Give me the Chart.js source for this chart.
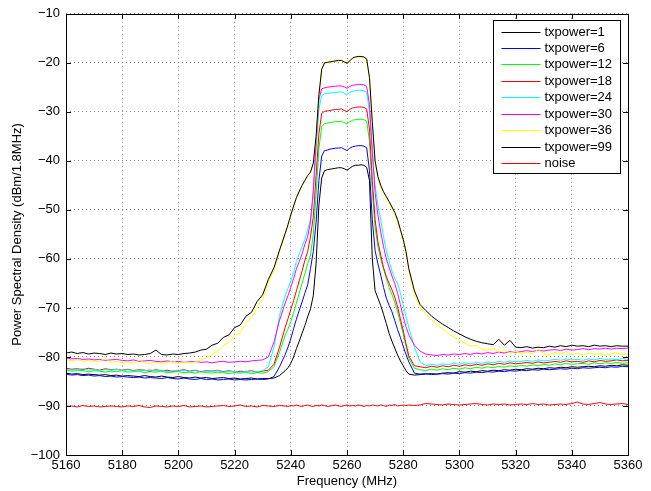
<!DOCTYPE html>
<html>
<head>
<meta charset="utf-8">
<script src="https://cdn.jsdelivr.net/npm/chart.js@4.4.1/dist/chart.umd.min.js"></script>
<style>
  body { margin: 0; background: #fff; }
  #wrap { width: 651px; height: 491px; }
</style>
</head>
<body>
<div id="wrap"><canvas id="psdChart"></canvas></div>
<script>
// frequency axis (MHz): 2 MHz steps on the flanks, 1 MHz around the channel
var freq = [
  5160,5162,5164,5166,5168,5170,5172,5174,5176,5178,
  5180,5182,5184,5186,5188,5190,5192,5194,5196,5198,
  5200,5202,5204,5206,5208,5210,5212,5214,5216,5218,
  5220,5222,5224,5226,5228,5230,5232,5234,5236,5238,
  5239,5240,5241,5242,5243,5244,5245,5246,5247,5248,
  5249,5250,5251,5252,5253,5254,5255,5256,5257,5258,
  5259,5260,5261,5262,5263,5264,5265,5266,5267,5268,
  5269,5270,5271,5272,5273,5274,5275,5276,5277,5278,
  5279,5280,5281,
  5282,5284,5286,5288,5290,5292,5294,5296,5298,5300,
  5302,5304,5306,5308,5310,5312,5314,5316,5318,5320,
  5322,5324,5326,5328,5330,5332,5334,5336,5338,5340,
  5342,5344,5346,5348,5350,5352,5354,5356,5358,5360
];

var tx1 = [
  -83.3,-83.5,-83.4,-83.6,-83.5,-83.6,-83.7,-83.6,-83.8,-83.7,
  -83.9,-83.8,-83.9,-84.0,-83.8,-84.0,-84.1,-83.9,-84.1,-84.2,
  -84.0,-84.2,-84.3,-84.1,-84.3,-84.2,-84.4,-84.3,-84.2,-84.4,
  -84.3,-84.5,-84.4,-84.3,-84.5,-84.4,-84.4,-84.3,-83.8,-82.8,
  -82.2,-81.3,-80.0,-78.3,-76.8,-75.2,-73.6,-71.8,-70.2,-67.5,
  -61.0,-49.0,-43.5,-42.0,-41.8,-41.7,-41.6,-41.5,-41.4,-41.4,
  -41.6,-41.9,-41.5,-41.1,-40.9,-40.9,-40.8,-40.9,-41.3,-44.0,
  -60.0,-66.5,-68.0,-69.5,-71.3,-73.2,-75.2,-76.8,-78.2,-79.6,
  -80.8,-81.8,-82.8,
  -83.5,-83.7,-83.6,-83.5,-83.4,-83.5,-83.3,-83.2,-83.3,-83.0,
  -83.1,-82.9,-83.0,-82.8,-82.9,-82.7,-82.8,-82.6,-82.7,-82.5,
  -82.6,-82.4,-82.5,-82.3,-82.4,-82.2,-82.3,-82.1,-82.2,-82.0,
  -82.1,-82.0,-81.9,-82.0,-81.8,-81.9,-81.7,-81.8,-81.6,-81.7
];

var tx6 = [
  -83.5,-83.7,-83.6,-83.8,-83.7,-83.9,-83.8,-84.0,-83.9,-84.1,
  -84.0,-84.1,-84.2,-84.1,-84.3,-84.2,-84.3,-84.4,-84.2,-84.4,
  -84.5,-84.3,-84.5,-84.6,-84.4,-84.6,-84.5,-84.7,-84.6,-84.5,
  -84.7,-84.6,-84.7,-84.6,-84.5,-84.6,-84.5,-84.0,-82.0,-79.5,
  -78.0,-76.3,-74.2,-72.3,-70.5,-68.8,-67.0,-65.3,-62.0,-58.5,
  -52.5,-44.0,-39.0,-37.9,-37.8,-37.6,-37.5,-37.4,-37.4,-37.3,
  -37.6,-37.9,-37.4,-37.1,-37.0,-36.9,-36.9,-37.0,-37.3,-42.0,
  -52.0,-58.3,-61.0,-63.3,-65.8,-68.0,-69.5,-70.8,-72.6,-74.4,
  -76.0,-77.8,-79.5,
  -81.0,-83.3,-83.5,-83.4,-83.6,-83.5,-83.4,-83.5,-83.3,-83.4,
  -83.2,-83.3,-83.1,-83.2,-83.0,-83.1,-82.9,-83.0,-82.8,-82.9,
  -82.7,-82.8,-82.6,-82.7,-82.5,-82.6,-82.5,-82.4,-82.5,-82.3,
  -82.4,-82.2,-82.3,-82.2,-82.1,-82.2,-82.0,-82.1,-81.9,-82.0
];

var tx12 = [
  -82.6,-82.9,-82.7,-82.8,-83.0,-82.8,-82.9,-83.1,-82.9,-83.0,
  -82.8,-83.1,-83.0,-82.9,-83.2,-83.0,-83.1,-82.9,-83.2,-83.1,
  -83.0,-83.2,-83.1,-83.3,-83.0,-83.2,-83.3,-83.1,-83.2,-83.4,
  -83.2,-83.3,-83.1,-83.4,-83.2,-83.3,-83.0,-82.0,-79.0,-75.5,
  -74.3,-72.8,-71.0,-69.0,-67.0,-65.0,-63.0,-61.0,-59.2,-55.0,
  -47.0,-37.5,-33.0,-32.4,-32.3,-32.2,-32.1,-32.0,-32.0,-31.9,
  -32.2,-32.5,-32.0,-31.7,-31.6,-31.5,-31.5,-31.6,-31.9,-36.0,
  -46.0,-53.5,-57.5,-60.0,-62.0,-64.0,-65.8,-67.3,-68.8,-70.8,
  -73.0,-75.3,-77.8,
  -80.3,-82.3,-82.6,-82.8,-82.5,-82.7,-82.4,-82.6,-82.3,-82.5,
  -82.2,-82.4,-82.1,-82.3,-82.0,-82.2,-81.9,-82.1,-81.8,-82.0,
  -81.7,-81.9,-81.6,-81.8,-81.5,-81.7,-81.4,-81.6,-81.3,-81.5,
  -81.4,-81.3,-81.5,-81.2,-81.4,-81.2,-81.3,-81.1,-81.3,-81.2
];

var tx18 = [
  -82.3,-82.5,-82.4,-82.6,-82.3,-82.5,-82.7,-82.4,-82.6,-82.5,
  -82.7,-82.5,-82.8,-82.6,-82.7,-82.9,-82.6,-82.8,-82.7,-82.9,
  -82.8,-82.6,-82.9,-82.7,-83.0,-82.8,-82.9,-82.7,-83.0,-82.8,
  -83.1,-82.9,-83.0,-82.8,-83.1,-82.9,-82.7,-81.5,-78.0,-74.0,
  -72.2,-70.3,-68.5,-66.5,-64.5,-62.5,-60.3,-58.5,-55.5,-51.5,
  -43.0,-34.5,-30.3,-29.9,-29.8,-29.7,-29.6,-29.5,-29.5,-29.4,
  -29.7,-30.0,-29.5,-29.2,-29.1,-29.0,-29.0,-29.1,-29.4,-33.5,
  -44.0,-52.0,-56.5,-59.2,-61.8,-63.6,-65.0,-66.3,-67.8,-69.8,
  -72.2,-74.6,-77.3,
  -79.8,-81.8,-82.0,-82.2,-81.9,-82.1,-81.8,-82.0,-81.7,-81.9,
  -81.6,-81.8,-81.5,-81.7,-81.4,-81.6,-81.3,-81.5,-81.2,-81.4,
  -81.3,-81.1,-81.3,-81.0,-81.2,-81.1,-80.9,-81.1,-80.8,-81.0,
  -80.9,-81.1,-80.8,-81.0,-80.7,-80.9,-80.8,-80.6,-80.8,-80.7
];

var tx24 = [
  -82.5,-82.7,-82.6,-82.4,-82.7,-82.5,-82.8,-82.6,-82.7,-82.5,
  -82.8,-82.6,-82.9,-82.7,-82.8,-82.6,-82.9,-82.7,-83.0,-82.8,
  -82.9,-82.7,-83.0,-82.8,-83.1,-82.9,-83.0,-82.8,-83.1,-82.9,
  -83.0,-83.2,-82.9,-83.1,-83.0,-82.8,-82.0,-78.0,-71.5,-67.5,
  -66.0,-64.5,-62.8,-60.5,-59.0,-57.5,-56.0,-54.0,-52.0,-47.0,
  -38.0,-29.5,-26.7,-26.3,-26.3,-26.2,-26.1,-26.0,-26.0,-25.9,
  -26.2,-26.6,-26.0,-25.8,-25.7,-25.6,-25.6,-25.7,-26.0,-30.0,
  -38.0,-45.0,-49.0,-52.0,-55.5,-58.3,-60.5,-62.5,-64.0,-65.0,
  -67.0,-69.3,-71.8,
  -74.0,-78.0,-81.0,-81.8,-81.5,-81.7,-81.4,-81.6,-81.3,-81.5,
  -81.2,-81.4,-81.1,-81.3,-81.0,-81.2,-80.9,-81.1,-80.8,-81.0,
  -80.9,-80.7,-80.9,-80.6,-80.8,-80.7,-80.5,-80.7,-80.4,-80.6,
  -80.5,-80.7,-80.4,-80.6,-80.3,-80.5,-80.4,-80.6,-80.3,-80.5
];

var tx30 = [
  -80.2,-80.4,-80.3,-80.5,-80.4,-80.6,-80.5,-80.7,-80.6,-80.5,
  -80.7,-80.8,-80.6,-80.9,-80.8,-80.7,-80.9,-81.0,-80.8,-81.0,
  -80.9,-81.1,-81.0,-80.9,-81.1,-81.0,-81.2,-81.0,-80.9,-81.1,
  -81.0,-80.9,-81.0,-80.8,-80.7,-80.6,-80.0,-77.0,-72.5,-69.0,
  -67.5,-65.8,-64.0,-62.0,-60.5,-59.0,-57.0,-55.5,-52.5,-46.0,
  -36.0,-27.5,-25.3,-25.1,-25.0,-24.9,-24.8,-24.8,-24.7,-24.7,
  -24.9,-25.2,-24.8,-24.6,-24.5,-24.4,-24.4,-24.5,-24.8,-28.5,
  -38.0,-46.5,-51.0,-54.5,-57.5,-60.0,-61.8,-63.5,-65.0,-67.0,
  -69.3,-71.8,-73.8,
  -75.5,-77.6,-78.8,-79.4,-79.6,-79.7,-79.5,-79.6,-79.4,-79.5,
  -79.3,-79.5,-79.2,-79.4,-79.1,-79.3,-79.0,-79.2,-78.9,-79.1,
  -78.9,-78.7,-78.9,-78.6,-78.8,-78.6,-78.5,-78.7,-78.4,-78.6,
  -78.5,-78.3,-78.5,-78.3,-78.4,-78.2,-78.4,-78.2,-78.3,-78.2
];

var tx36 = [
  -80.6,-80.8,-80.5,-80.9,-80.7,-81.0,-80.8,-80.3,-81.1,-80.9,
  -81.2,-81.0,-81.3,-80.6,-81.2,-81.4,-81.1,-81.3,-81.2,-80.8,
  -81.3,-81.1,-81.2,-81.0,-80.6,-80.2,-79.5,-78.8,-77.6,-77.1,
  -75.6,-75.1,-73.1,-72.1,-69.7,-68.2,-64.7,-62.4,-58.5,-55.0,
  -53.2,-51.2,-49.4,-47.6,-46.3,-45.1,-44.1,-43.1,-42.4,-40.7,
  -35.3,-26.8,-21.5,-20.1,-20.0,-19.9,-19.8,-19.7,-19.6,-19.6,
  -19.9,-20.2,-19.7,-19.1,-18.9,-18.8,-18.8,-18.9,-19.3,-23.2,
  -32.3,-40.3,-43.5,-45.3,-46.6,-47.6,-48.6,-49.7,-50.8,-52.3,
  -54.3,-56.3,-58.8,
  -62.5,-67.3,-69.8,-71.2,-72.4,-73.4,-74.3,-75.2,-75.9,-76.6,
  -77.2,-77.8,-77.6,-78.4,-78.7,-78.3,-79.0,-78.6,-79.2,-78.9,
  -79.3,-79.0,-79.4,-78.4,-79.3,-79.5,-79.1,-79.4,-78.9,-79.5,
  -79.3,-79.6,-79.2,-79.5,-79.3,-79.6,-79.4,-79.2,-79.5,-79.4
];

var tx99 = [
  -79.2,-79.0,-79.3,-79.1,-79.4,-79.2,-79.3,-79.5,-79.2,-79.4,
  -79.3,-79.5,-79.4,-79.6,-79.5,-79.3,-78.6,-79.5,-79.6,-79.4,
  -79.5,-79.3,-79.2,-79.0,-78.6,-78.4,-77.6,-77.2,-76.0,-75.5,
  -74.0,-73.5,-71.7,-70.9,-68.7,-67.3,-64.2,-61.8,-58.2,-54.8,
  -53.0,-51.0,-49.2,-47.5,-46.2,-45.0,-44.0,-43.0,-42.3,-40.5,
  -35.0,-26.5,-21.3,-20.0,-19.9,-19.8,-19.7,-19.6,-19.5,-19.5,
  -19.8,-20.1,-19.6,-19.0,-18.8,-18.7,-18.7,-18.8,-19.2,-23.0,
  -32.0,-40.0,-43.2,-45.0,-46.3,-47.3,-48.3,-49.4,-50.5,-52.0,
  -54.0,-56.0,-58.5,
  -62.0,-66.5,-69.3,-70.5,-71.6,-72.5,-73.3,-74.0,-74.7,-75.3,
  -75.9,-76.4,-76.8,-77.1,-77.3,-77.5,-76.4,-77.6,-76.6,-78.0,
  -78.1,-77.9,-78.2,-78.0,-78.1,-77.8,-78.0,-77.7,-77.9,-77.6,
  -77.8,-77.7,-77.9,-77.6,-77.8,-77.7,-77.9,-77.7,-77.8,-77.8
];

var noise = [
  -90.1,-90.0,-90.2,-89.9,-90.1,-90.0,-90.2,-90.1,-90.0,-90.1,
  -90.2,-90.0,-90.1,-89.9,-90.2,-90.3,-90.0,-90.1,-90.2,-90.0,
  -90.1,-89.9,-90.2,-90.1,-90.0,-90.2,-90.1,-90.0,-89.9,-90.1,
  -90.0,-89.8,-90.1,-90.0,-90.2,-89.9,-90.0,-90.1,-89.9,-90.0,
  -90.1,-89.9,-90.0,-89.8,-90.0,-90.1,-89.9,-89.8,-90.0,-90.1,
  -89.9,-90.0,-89.8,-89.9,-90.1,-90.0,-89.9,-89.8,-90.0,-90.1,
  -89.9,-89.8,-90.0,-89.9,-90.0,-89.8,-89.9,-90.1,-89.9,-90.0,
  -89.8,-89.9,-90.0,-89.8,-89.9,-90.1,-89.8,-89.9,-89.7,-90.0,
  -89.9,-89.8,-89.9,
  -89.8,-89.9,-89.8,-89.5,-89.6,-89.7,-89.8,-89.6,-89.7,-89.8,
  -89.7,-89.6,-89.5,-89.7,-89.8,-89.6,-89.7,-89.6,-89.8,-89.7,
  -89.6,-89.7,-89.5,-89.7,-89.6,-89.8,-89.7,-89.6,-89.7,-89.5,
  -89.2,-89.6,-89.7,-89.5,-89.3,-89.6,-89.7,-89.6,-89.5,-89.7
];

var seriesNames = ['txpower=1', 'txpower=6', 'txpower=12', 'txpower=18', 'txpower=24',
                   'txpower=30', 'txpower=36', 'txpower=99', 'noise'];
var seriesData = [tx1, tx6, tx12, tx18, tx24, tx30, tx36, tx99, noise];
var seriesColors = ['#000000', '#0000ff', '#00ff00', '#ff0000', '#00ffff',
                    '#ff00ff', '#ffff00', '#000000', '#ff0000'];

var xTicks = [5160, 5180, 5200, 5220, 5240, 5260, 5280, 5300, 5320, 5340, 5360];
var yTicks = [-100, -90, -80, -70, -60, -50, -40, -30, -20, -10];

seriesData.forEach(function (s, i) {
    if (s.length !== freq.length) throw new Error(seriesNames[i] + ' has ' + s.length + ' values, expected ' + freq.length);
});

var FONT = '"Liberation Sans", Arial, Helvetica, sans-serif';
Chart.defaults.font.family = FONT;
Chart.defaults.font.size = 13;
Chart.defaults.color = '#000';

// legend box drawn inside the plot, top right (matlab style)
var boxLegend = {
    id: 'boxLegend',
    afterDatasetsDraw: function (chart) {
        var ctx = chart.ctx, a = chart.chartArea;
        var sets = chart.data.datasets;
        var w = 127, rowH = 16.45, h = 153;
        var x0 = Math.round(a.right - 8 - w) + 0.5, y0 = Math.round(a.top + 6) + 0.5;
        ctx.save();
        ctx.fillStyle = '#fff';
        ctx.fillRect(x0, y0, w, h);
        ctx.strokeStyle = '#000';
        ctx.lineWidth = 1;
        ctx.strokeRect(x0, y0, w, h);
        ctx.font = '13px ' + FONT;
        ctx.textBaseline = 'middle';
        ctx.textAlign = 'left';
        sets.forEach(function (ds, i) {
            var yy = Math.round(y0 + 11 + i * rowH) + 0.5;
            ctx.strokeStyle = ds.borderColor;
            ctx.beginPath();
            ctx.moveTo(x0 + 8, yy);
            ctx.lineTo(x0 + 47, yy);
            ctx.stroke();
            ctx.fillStyle = '#000';
            ctx.fillText(ds.label, x0 + 51, yy);
        });
        ctx.restore();
    }
};

// box around plot + inward tick marks on all four sides
var frame = {
    id: 'frame',
    afterDraw: function (chart) {
        var ctx = chart.ctx, a = chart.chartArea;
        var xs = chart.scales.x, ys = chart.scales.y;
        ctx.save();
        ctx.strokeStyle = '#000';
        ctx.lineWidth = 1;
        ctx.beginPath();
        xs.ticks.forEach(function (t) {
            var px = Math.round(xs.getPixelForValue(t.value)) + 0.5;
            ctx.moveTo(px, a.bottom); ctx.lineTo(px, a.bottom - 5);
            ctx.moveTo(px, a.top); ctx.lineTo(px, a.top + 5);
        });
        ys.ticks.forEach(function (t) {
            var py = Math.round(ys.getPixelForValue(t.value)) + 0.5;
            ctx.moveTo(a.left, py); ctx.lineTo(a.left + 5, py);
            ctx.moveTo(a.right, py); ctx.lineTo(a.right - 5, py);
        });
        ctx.stroke();
        ctx.strokeRect(Math.round(a.left) + 0.5, Math.round(a.top) + 0.5,
                       Math.round(a.right - a.left), Math.round(a.bottom - a.top));
        ctx.restore();
    }
};

var datasets = seriesData.map(function (s, i) {
    return {
        label: seriesNames[i],
        data: s.map(function (v, j) { return { x: freq[j], y: v }; }),
        borderColor: seriesColors[i],
        backgroundColor: seriesColors[i],
        borderWidth: 1,
        pointRadius: 0,
        tension: 0,
        fill: false,
        order: seriesData.length - i   // later series drawn on top
    };
});

var grid = {
    color: '#8a8a8a',
    lineWidth: 1,
    drawTicks: false,
    borderDash: [1, 3]
};

new Chart(document.getElementById('psdChart').getContext('2d'), {
    type: 'line',
    data: { datasets: datasets },
    options: {
        responsive: true,
        maintainAspectRatio: false,
        animation: false,
        layout: { padding: { top: 13, right: 23, bottom: 0, left: 0 } },
        plugins: { legend: { display: false }, tooltip: { enabled: false } },
        scales: {
            x: {
                type: 'linear',
                min: 5160,
                max: 5360,
                afterBuildTicks: function (scale) {
                    scale.ticks = xTicks.map(function (v) { return { value: v }; });
                },
                afterFit: function (scale) { scale.height = 36; },
                ticks: {
                    autoSkip: false, maxRotation: 0, padding: 3,
                    callback: function (v) { return String(v); }
                },
                grid: grid,
                border: { display: false, dash: [1, 3] },
                title: { display: true, text: 'Frequency (MHz)', padding: { top: 0, bottom: 2 } }
            },
            y: {
                type: 'linear',
                min: -100,
                max: -10,
                afterBuildTicks: function (scale) {
                    scale.ticks = yTicks.map(function (v) { return { value: v }; });
                },
                afterFit: function (scale) { scale.width = 66; },
                ticks: {
                    padding: 6,
                    callback: function (v) { return String(v).replace('-', '\u2212'); }
                },
                grid: grid,
                border: { display: false, dash: [1, 3] },
                title: { display: true, text: 'Power Spectral Density (dBm/1.8MHz)', padding: { top: 10, bottom: 0 } }
            }
        }
    },
    plugins: [boxLegend, frame]
});
</script>
</body>
</html>
